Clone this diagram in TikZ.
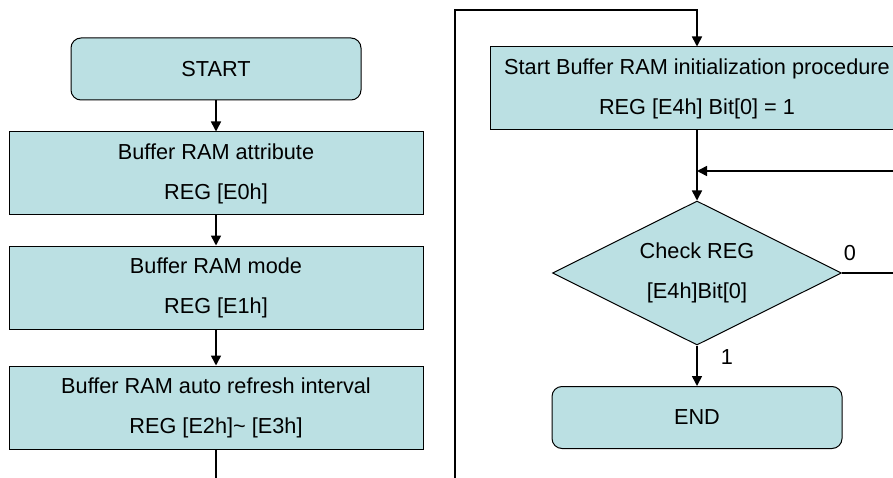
\documentclass[tikz,border=0pt]{standalone}
\usepackage{fontspec}
\setmainfont{Liberation Sans}
\usetikzlibrary{shapes.geometric,arrows.meta}
\definecolor{boxfill}{RGB}{187,224,227}
\begin{document}
\begin{tikzpicture}[x=1pt,y=-1pt,
  every node/.style={font=\fontsize{21.7pt}{40pt}\selectfont},
  procbox/.style={draw=black,line width=1pt,fill=boxfill,rectangle,minimum width=414pt,minimum height=83pt,align=center,inner sep=0pt},
  termbox/.style={draw=black,line width=1pt,fill=boxfill,rectangle,rounded corners=10pt,minimum width=290pt,minimum height=62pt,align=center,inner sep=0pt},
  decbox/.style={draw=black,line width=1pt,fill=boxfill,diamond,aspect=2,minimum width=289pt,minimum height=144pt,align=center,inner sep=0pt},
  conn/.style={line width=1.6pt},
  arr/.style={conn,-{Triangle[length=10pt,width=10pt]}},
  lbl/.style={inner sep=0pt}
]
\useasboundingbox (0,0) rectangle (893,478);
\clip (0,0) rectangle (893,478);
% left column
\node[termbox] (start) at (216,69) {START};
\node[procbox] (b1) at (216,173.5) {Buffer RAM attribute\\REG [E0h]};
\node[procbox] (b2) at (216,287.5) {Buffer RAM mode\\REG [E1h]};
\node[procbox] (b3) at (216,407.5) {Buffer RAM auto refresh interval\\REG [E2h]\textasciitilde{} [E3h]};
\coordinate (lout) at (216,490);
\draw[arr] (start) -- (b1);
\draw[arr] (b1) -- (b2);
\draw[arr] (b2) -- (b3);
\draw[conn] (b3.south) -- (lout);
% right column
\node[procbox] (b4) at (697,88.5) {Start Buffer RAM initialization procedure\\REG [E4h] Bit[0] = 1};
\node[decbox] (dia) at (697,273) {Check REG\\{}[E4h]Bit[0]};
\node[termbox] (end) at (697,417.5) {END};
\coordinate (rin) at (455,490);
\coordinate (rtop) at (455,10);
\coordinate (rtopc) at (697,10);
\coordinate (join) at (697,171);
\coordinate (loopin) at (905,171);
\coordinate (loopout) at (905,273);
\draw[arr] (rin) -- (rtop) -- (rtopc) -- (b4.north);
\draw[arr] (b4.south) -- (dia.north);
\draw[arr] (loopin) -- (join);
\draw[conn] (dia.east) -- (loopout);
\draw[arr] (dia.south) -- (end.north);
\node[lbl] (l0) at (850,253) {0};
\node[lbl] (l1) at (727,357) {1};
\end{tikzpicture}
\end{document}
